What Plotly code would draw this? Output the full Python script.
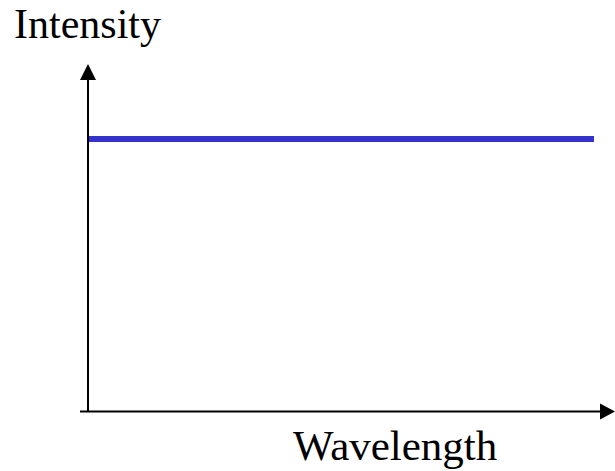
import plotly.graph_objects as go

# Data
wavelength = [400, 700]
intensity = [1.0, 1.0]
x_label = "Wavelength"
y_label = "Intensity"

fig = go.Figure()
fig.add_trace(go.Scatter(x=wavelength, y=intensity, mode="lines",
                         line=dict(color="#3333cc", width=6), showlegend=False,
                         hoverinfo="skip"))

W, H = 615, 471
ml, mr, mt, mb = 88, 21, 64, 60
pw, ph = W - ml - mr, H - mt - mb

def px(x):
    return (x - ml) / pw

def py(y):
    return (H - mb - y) / ph

shapes = [
    # y axis
    dict(type="line", xref="paper", yref="paper", x0=0, x1=0, y0=py(411), y1=py(78),
         line=dict(color="black", width=2)),
    dict(type="path", xref="paper", yref="paper",
         path=f"M {px(88)} {py(64)} L {px(80)} {py(80)} L {px(96)} {py(80)} Z",
         fillcolor="black", line=dict(color="black", width=0)),
    # x axis
    dict(type="line", xref="paper", yref="paper", x0=px(80), x1=px(602), y0=py(411.5), y1=py(411.5),
         line=dict(color="black", width=2)),
    dict(type="path", xref="paper", yref="paper",
         path=f"M {px(615)} {py(411.5)} L {px(600)} {py(403.5)} L {px(600)} {py(419.5)} Z",
         fillcolor="black", line=dict(color="black", width=0)),
]

annotations = [
    dict(text=y_label, xref="paper", yref="paper", x=px(12), y=py(24), xanchor="left",
         yanchor="middle", showarrow=False,
         font=dict(family="Liberation Serif", size=42, color="black")),
    dict(text=x_label, xref="paper", yref="paper", x=px(291), y=py(445), xanchor="left",
         yanchor="middle", showarrow=False,
         font=dict(family="Liberation Serif", size=43, color="black")),
]

fig.update_layout(
    width=W, height=H,
    margin=dict(l=ml, r=mr, t=mt, b=mb),
    paper_bgcolor="white", plot_bgcolor="white",
    xaxis=dict(range=[400, 700], visible=False, fixedrange=True),
    yaxis=dict(range=[0, 1.2757], visible=False, fixedrange=True),
    shapes=shapes, annotations=annotations,
)

fig.write_html("out.html", config={"displayModeBar": False},
               post_script="document.body.style.margin='0';document.body.style.overflow='hidden';")
